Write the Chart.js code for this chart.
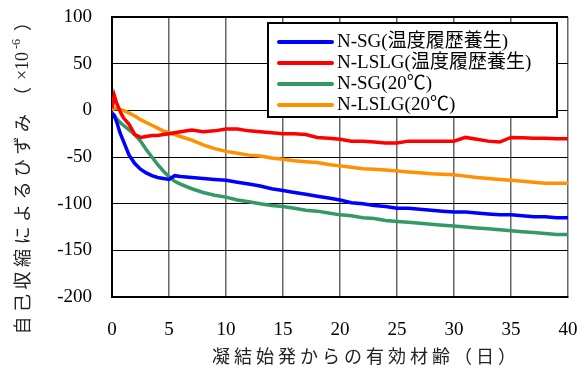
<!DOCTYPE html>
<html lang="ja">
<head>
<meta charset="utf-8">
<title>自己収縮ひずみ</title>
<script src="https://cdn.jsdelivr.net/npm/chart.js@4.4.1/dist/chart.umd.min.js"></script>
<style>
  html, body { margin: 0; padding: 0; background: #fff; }
  canvas { display: block; }
</style>
</head>
<body>
<canvas id="graficoRetracao" width="587" height="372"></canvas>
<script>
// 有効材齢（日）
const ages = [0, 0.2, 0.4, 0.7, 1, 1.5, 2, 2.5, 3, 3.5, 4, 4.5, 5, 5.5, 6, 7, 8, 9, 10,
  11, 12, 13, 14, 15, 16, 17, 18, 19, 20, 21, 22, 23, 24, 25, 26, 27, 28, 29, 30,
  31, 32, 33, 34, 35, 36, 37, 38, 39, 40];

// 自己収縮ひずみ（×10^-6）
const sgHeat = [-3, -6, -12, -24, -33, -48, -57, -63, -67, -70, -72, -73, -74, -70, -71, -72, -73, -74, -75,
  -77, -79, -81, -84, -86, -88, -90, -92, -94, -96, -99, -100, -102, -103, -105, -105, -106, -107, -108, -109,
  -109, -110, -111, -112, -112, -113, -114, -114, -115, -115];
const lslgHeat = [2, 16, 8, -1, -8, -15, -26, -29, -28, -27, -27, -26, -25, -24, -23, -21, -23, -22, -20,
  -20, -22, -23, -24, -25, -25, -26, -29, -30, -31, -33, -33, -34, -35, -35, -33, -33, -33, -33, -33,
  -29, -31, -33, -34, -29, -29.5, -30, -30, -30.5, -30.5];
const sg20 = [-3, -5, -9, -13, -16, -21, -26, -33, -42, -50, -58, -65, -71, -76, -79, -84, -88, -91, -93,
  -96, -98, -100, -102, -103, -105, -107, -108, -110, -112, -113, -115, -116, -118, -119, -120, -121, -122, -123, -124,
  -125, -126, -127, -128, -129, -130, -131, -132, -133, -133];
const lslg20 = [0, 2, 2, 1, 0, -3, -6, -10, -13, -16, -19, -22, -24, -26, -28, -32, -37, -41, -44,
  -46, -48, -49, -51, -52.5, -54, -55, -56, -58, -59.5, -61, -62.5, -63, -64, -65, -66, -67, -68, -68.5, -69,
  -70.5, -72, -73, -74, -75, -76, -77, -78, -78, -78];

const seriesLabels = ['N-SG(温度履歴養生)', 'N-LSLG(温度履歴養生)', 'N-SG(20℃)', 'N-LSLG(20℃)'];
const seriesColors = ['#0000ff', '#ff0000', '#339966', '#ff9000'];

const xTitle = '凝結始発からの有効材齢（日）';
const yTitle = '自己収縮によるひずみ';

const serif = '"Liberation Serif", "Noto Sans CJK JP", serif';
const gothic = '"Noto Sans CJK JP", sans-serif';

function pontos(valores) {
    return ages.map((a, i) => ({ x: a, y: valores[i] }));
}

function linha(idx, valores) {
    return {
        label: seriesLabels[idx],
        data: pontos(valores),
        borderColor: seriesColors[idx],
        backgroundColor: seriesColors[idx],
        borderWidth: 3.5,
        pointRadius: 0,
        tension: 0,
        fill: false
    };
}

// legenda desenhada dentro da área do gráfico, canto superior direito
const legendaInterna = {
    id: 'legendaInterna',
    afterDraw(chart) {
        const { ctx, chartArea } = chart;
        const w = 289, h = 94;
        const left = chartArea.right - 11 - w;
        const top = chartArea.top + 6;
        ctx.save();
        ctx.fillStyle = '#fff';
        ctx.fillRect(left, top, w, h);
        ctx.lineWidth = 2;
        ctx.strokeStyle = '#000';
        ctx.strokeRect(left, top, w, h);
        ctx.font = '19px ' + serif;
        ctx.textBaseline = 'middle';
        ctx.textAlign = 'left';
        chart.data.datasets.forEach((ds, i) => {
            const y = top + 19 + i * 21;
            ctx.strokeStyle = ds.borderColor;
            ctx.lineWidth = 4;
            ctx.lineCap = 'round';
            ctx.beginPath();
            ctx.moveTo(left + 11, y);
            ctx.lineTo(left + 64, y);
            ctx.stroke();
            ctx.fillStyle = '#000';
            ctx.fillText(ds.label, left + 69, y);
        });
        ctx.restore();
    }
};

// títulos dos eixos (o do eixo y montado por partes por causa do expoente)
const titulosEixos = {
    id: 'titulosEixos',
    afterDraw(chart) {
        const { ctx, chartArea } = chart;
        ctx.save();
        ctx.fillStyle = '#222';
        ctx.textAlign = 'center';
        ctx.textBaseline = 'middle';

        ctx.font = '18px ' + gothic;
        ctx.letterSpacing = '4px';
        ctx.fillText(xTitle, (chartArea.left + chartArea.right) / 2 + 26, 356);

        ctx.translate(22, 0);
        ctx.rotate(-Math.PI / 2);
        ctx.letterSpacing = '4.5px';
        ctx.fillText(yTitle, -222, 0);
        ctx.letterSpacing = '0px';
        ctx.fillText('（', -96, 0);
        ctx.fillText('）', -22, 0);
        ctx.font = '18px ' + serif;
        ctx.fillText('×10', -66, 1);
        ctx.font = '12px ' + serif;
        ctx.fillText('-6', -44, -5);
        ctx.restore();
    }
};

const ctx = document.getElementById('graficoRetracao').getContext('2d');
new Chart(ctx, {
    type: 'line',
    data: {
        datasets: [
            linha(0, sgHeat),
            linha(1, lslgHeat),
            linha(2, sg20),
            linha(3, lslg20)
        ]
    },
    options: {
        responsive: false,
        animation: false,
        devicePixelRatio: 1,
        layout: { padding: { top: 17, right: 19, left: 0, bottom: 0 } },
        plugins: {
            legend: { display: false },
            tooltip: { enabled: false }
        },
        scales: {
            x: {
                type: 'linear',
                min: 0,
                max: 40,
                ticks: {
                    stepSize: 5,
                    padding: 22,
                    color: '#000',
                    font: { family: serif, size: 19 }
                },
                grid: {
                    color: '#666',
                    lineWidth: 1.5,
                    drawTicks: false
                },
                border: { color: '#000', width: 2 },
                afterFit: scale => {
                    scale.height = 75;
                    scale.paddingLeft = 0;
                    scale.paddingRight = 0;
                }
            },
            y: {
                min: -200,
                max: 100,
                ticks: {
                    stepSize: 50,
                    padding: 20,
                    color: '#000',
                    font: { family: serif, size: 19 }
                },
                grid: {
                    color: '#000',
                    lineWidth: c => (c.tick && c.tick.value === 100 ? 2 : 1),
                    drawTicks: false
                },
                border: { color: '#000', width: 2 },
                afterFit: scale => {
                    scale.width = 112;
                    scale.paddingTop = 0;
                    scale.paddingBottom = 0;
                }
            }
        }
    },
    plugins: [legendaInterna, titulosEixos]
});
</script>
</body>
</html>
